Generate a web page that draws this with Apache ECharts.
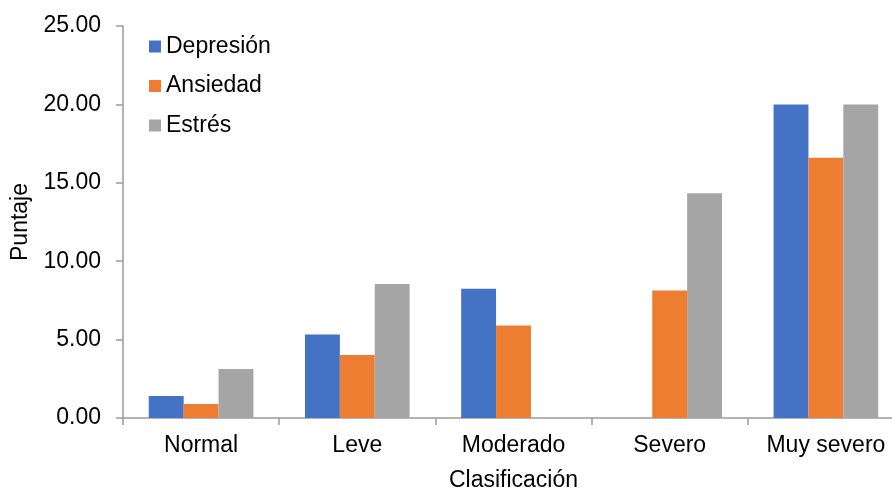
<!DOCTYPE html>
<html>
<head>
<meta charset="utf-8">
<script src="https://cdn.jsdelivr.net/npm/echarts@6/dist/echarts.min.js"></script>
<style>
  html, body { margin: 0; padding: 0; background: #fff; }
  #chart { width: 892px; height: 492px; }
</style>
</head>
<body>
<div id="chart"></div>
<script>
// Puntaje promedio por nivel de clasificación
const categories = ['Normal', 'Leve', 'Moderado', 'Severo', 'Muy severo'];
const depresion = [1.40, 5.33, 8.24, 0, 20.00];
const ansiedad = [0.89, 4.01, 5.90, 8.13, 16.60];
const estres = [3.12, 8.54, 0, 14.33, 20.00];
const yTicks = { min: 0, max: 25, interval: 5 };

const font = 'Liberation Sans, Arial, sans-serif';
const fs = 23;
const axisGrey = '#9a9a9a';
const chart = echarts.init(document.getElementById('chart'), null, { renderer: 'canvas' });

const barSeries = (name, data, color) => ({
  name, type: 'bar', data,
  barGap: '0%', barCategoryGap: '33%',
  itemStyle: { color },
  emphasis: { disabled: true }
});

chart.setOption({
  animation: false,
  textStyle: { fontFamily: font },
  grid: { left: 123, right: -12, top: 26, bottom: 74, outerBoundsMode: 'none' },
  legend: {
    orient: 'vertical', left: 149, top: 35, padding: 0,
    itemWidth: 12, itemHeight: 12, itemGap: 16.5,
    icon: 'rect',
    textStyle: { fontFamily: font, fontSize: fs, color: '#000' },
    data: ['Depresión', 'Ansiedad', 'Estrés']
  },
  xAxis: {
    type: 'category', data: categories,
    name: 'Clasificación', nameLocation: 'middle', nameGap: 51,
    nameTextStyle: { fontFamily: font, fontSize: fs, color: '#000' },
    axisLine: { lineStyle: { color: axisGrey, width: 1.5 } },
    axisTick: { show: true, length: 7, lineStyle: { color: axisGrey, width: 1.5 } },
    axisLabel: { fontFamily: font, fontSize: fs, color: '#000', margin: 16 }
  },
  yAxis: {
    type: 'value', min: yTicks.min, max: yTicks.max, interval: yTicks.interval,
    name: 'Puntaje', nameLocation: 'middle', nameGap: 89,
    nameTextStyle: { fontFamily: font, fontSize: fs, color: '#000' },
    axisLine: { show: true, lineStyle: { color: axisGrey, width: 1.5 } },
    axisTick: { show: true, length: 7, lineStyle: { color: axisGrey, width: 1.5 } },
    splitLine: { show: false },
    axisLabel: { fontFamily: font, fontSize: fs, color: '#000', margin: 22,
      formatter: v => v.toFixed(2) }
  },
  series: [
    barSeries('Depresión', depresion, '#4472C4'),
    barSeries('Ansiedad', ansiedad, '#ED7D31'),
    barSeries('Estrés', estres, '#A5A5A5')
  ]
});
</script>
</body>
</html>
